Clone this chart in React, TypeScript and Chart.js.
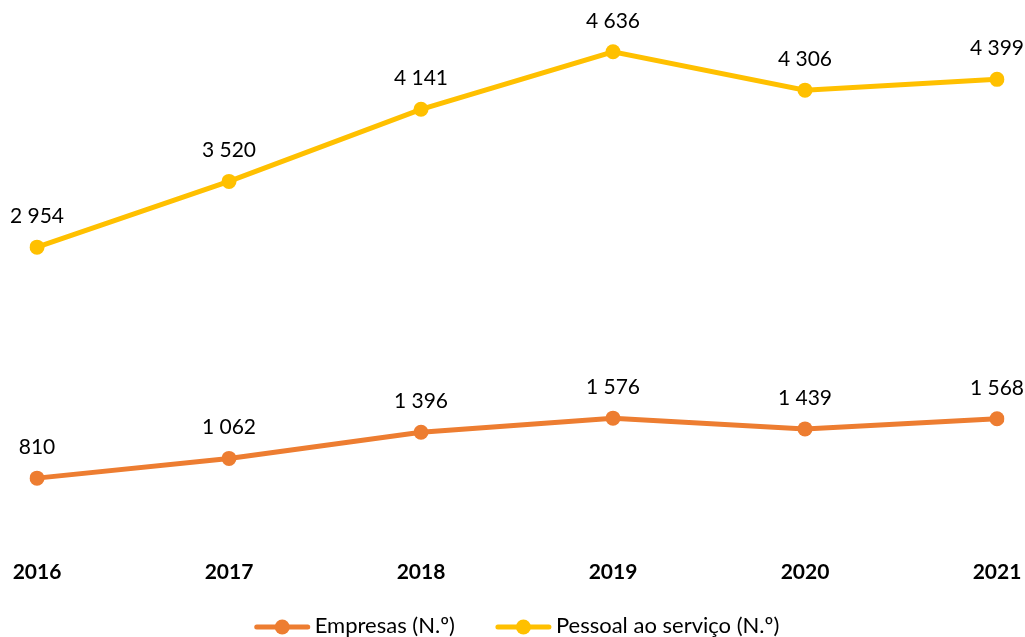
import React, { useEffect, useRef } from "react";
import { Chart, registerables } from "chart.js";

Chart.register(...registerables);

const years = ["2016", "2017", "2018", "2019", "2020", "2021"];
const empresas = [810, 1062, 1396, 1576, 1439, 1568];
const pessoal = [2954, 3520, 4141, 4636, 4306, 4399];
const seriesNames = ["Empresas (N.º)", "Pessoal ao serviço (N.º)"];
const ORANGE = "#ED7D31";
const YELLOW = "#FFC000";
const FONT = "Lato";

function fmt(n: number): string {
  return String(n).replace(/\B(?=(\d{3})+(?!\d))/g, " ");
}

const dataLabels = {
  id: "dataLabels",
  afterDatasetsDraw(chart: any) {
    const ctx = chart.ctx;
    ctx.save();
    ctx.font = `21px ${FONT}`;
    ctx.fillStyle = "#000000";
    ctx.textAlign = "center";
    ctx.textBaseline = "alphabetic";
    chart.data.datasets.forEach((ds: any, i: number) => {
      const meta = chart.getDatasetMeta(i);
      meta.data.forEach((pt: any, j: number) => {
        ctx.fillText(fmt(ds.data[j]), pt.x, pt.y - 24);
      });
    });
    ctx.restore();
  },
};

const customLegend = {
  id: "customLegend",
  afterDraw(chart: any) {
    const ctx = chart.ctx;
    ctx.save();
    ctx.font = `22px ${FONT}`;
    const markerW = 55;
    const gapText = 5;
    const gapItems = 41;
    const items = chart.data.datasets.map((ds: any) => ({
      text: ds.label,
      color: ds.borderColor,
      w: ctx.measureText(ds.label).width,
    }));
    let total = 0;
    items.forEach((it: any, i: number) => {
      total += markerW + gapText + it.w + (i < items.length - 1 ? gapItems : 0);
    });
    const cy = chart.height - 10;
    let x = 517 - total / 2;
    items.forEach((it: any) => {
      ctx.strokeStyle = it.color;
      ctx.lineWidth = 5;
      ctx.lineCap = "round";
      ctx.beginPath();
      ctx.moveTo(x + 2, cy);
      ctx.lineTo(x + markerW - 2, cy);
      ctx.stroke();
      ctx.fillStyle = it.color;
      ctx.beginPath();
      ctx.arc(x + markerW / 2, cy, 7.5, 0, Math.PI * 2);
      ctx.fill();
      ctx.fillStyle = "#000000";
      ctx.textAlign = "left";
      ctx.textBaseline = "alphabetic";
      ctx.fillText(it.text, x + markerW + gapText, cy + 6);
      x += markerW + gapText + it.w + gapItems;
    });
    ctx.restore();
  },
};

export default function App() {
  const ref = useRef<HTMLCanvasElement>(null);
  useEffect(() => {
    const chart = new Chart(ref.current!, {
      type: "line",
      data: {
        labels: years,
        datasets: [
          {
            label: seriesNames[0],
            data: empresas,
            borderColor: ORANGE,
            backgroundColor: ORANGE,
            borderWidth: 5,
            pointRadius: 7.5,
            pointBorderWidth: 0,
            pointBackgroundColor: ORANGE,
            yAxisID: "y",
          },
          {
            label: seriesNames[1],
            data: pessoal,
            borderColor: YELLOW,
            backgroundColor: YELLOW,
            borderWidth: 5,
            pointRadius: 7.5,
            pointBorderWidth: 0,
            pointBackgroundColor: YELLOW,
            yAxisID: "y1",
          },
        ],
      },
      options: {
        animation: false,
        responsive: false,
        maintainAspectRatio: false,
        layout: { padding: { left: 37, right: 28, top: 20, bottom: 52 } },
        font: { family: FONT },
        scales: {
          x: {
            type: "category",
            offset: false,
            grid: { display: false, drawTicks: false },
            border: { display: false },
            ticks: {
              color: "#000000",
              font: { family: FONT, size: 21, weight: "bold" },
              padding: 0,
              maxRotation: 0,
              autoSkip: false,
            },
          },
          y: { display: false, min: -233, max: 6661 },
          y1: { display: false, min: 261.5, max: 4909.9 },
        },
        plugins: {
          legend: { display: false },
          tooltip: { enabled: false },
        },
      },
      plugins: [dataLabels, customLegend],
    } as any);
    return () => chart.destroy();
  }, []);
  return (
    <div style={{ position: "fixed", left: 0, top: 0, width: 1025, height: 637, background: "#fff" }}>
      <canvas ref={ref} width={1025} height={637} style={{ width: 1025, height: 637, display: "block" }} />
    </div>
  );
}
